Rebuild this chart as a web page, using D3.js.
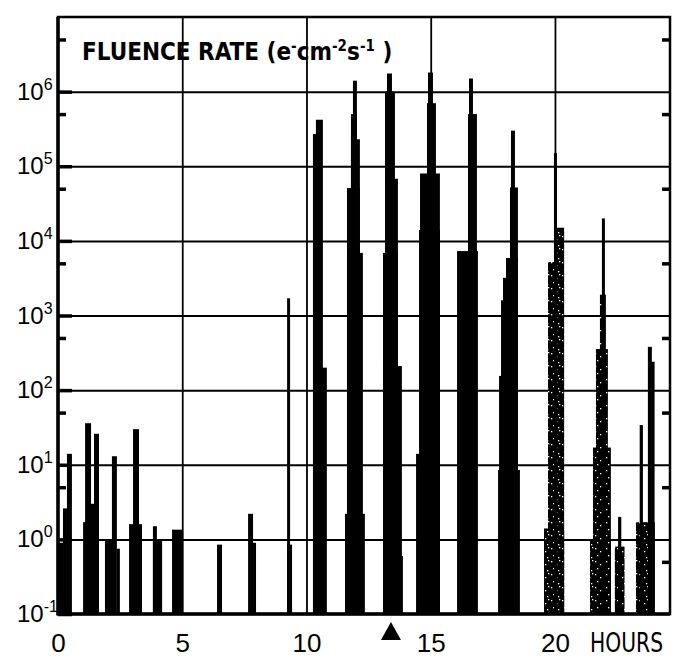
<!DOCTYPE html>
<html><head><meta charset="utf-8">
<script src="https://cdn.jsdelivr.net/npm/d3@7"></script>
<style>
html,body{margin:0;padding:0;background:#fff;}
svg{display:block;}
</style></head>
<body>
<svg id="chart" width="677" height="667"></svg>
<script>
// ---- data (hours, fluence rate e cm^-2 s^-1) ----
const barStart = [0.04,0.20,0.36, 1.01,1.09,1.29,1.45, 1.89,2.17,2.37, 2.86,3.02, 3.82,3.82, 4.59,
  6.40, 7.65,7.81, 9.22,9.22,
  10.26,10.38,10.62,
  11.55,11.63,11.63,11.79,11.79,11.87,
  13.08,13.08,13.08,13.16,13.16,13.24,
  14.41,14.53,14.57,14.85,14.89,
  16.06,16.50,16.54,
  17.71,17.75,17.83,17.91,18.03,18.19,18.23,
  19.56,19.72,20.04,19.96,
  21.41,21.53,21.65,21.81,21.89,
  22.41,22.54,
  23.26,23.41,23.74,23.81];
const barEnd = [0.24,0.40,0.56, 1.29,1.33,1.57,1.65, 2.21,2.37,2.49, 3.38,3.26, 4.19,3.98, 4.99,
  6.60, 7.85,7.97, 9.34,9.42,
  10.42,10.66,10.82,
  12.35,12.27,12.15,12.15,12.03,12.03,
  13.88,13.84,13.68,13.68,13.56,13.44,
  15.37,15.37,15.37,15.21,15.09,
  16.90,16.86,16.70,
  18.59,18.51,18.51,18.51,18.51,18.51,18.39,
  20.37,20.04,20.37,20.08,
  22.25,22.25,22.13,22.05,22.01,
  22.80,22.67,
  24.02,23.54,23.90,24.01];
const barValue = [0.9,2.6,14, 1.7,36,3,26, 1.0,13,0.75, 1.6,30, 0.95,1.5, 1.35,
  0.85, 2.2,0.9, 1700,0.85,
  2.7e5,4.2e5,200,
  2.2,6.9e3,5.1e4,2.3e5,5e5,1.4e6,
  0.6,210,6.9e3,6.8e4,1e6,1.75e6,
  14,1.4e4,8e4,7e5,1.8e6,
  7.3e3,5e5,1.5e6,
  8.5,155,1.6e3,3.2e3,5.9e3,5.2e4,3e5,
  1.4,5.2e3,1.5e4,1.5e5,
  1.0,17,355,1.9e3,2e4,
  0.8,2.0,
  1.7,34,380,240];
const decades = [0.1,1,10,100,1e3,1e4,1e5,1e6];
const decadeExp = ["-1","0","1","2","3","4","5","6"];
const minorTicks = [0.5,5,50,500,5e3,5e4,5e5,5e6];
const hourTicks = [0,5,10,15,20];
const markerHour = 13.4;

// ---- layout ----
const svg = d3.select("#chart");
const L = 58, R = 670, T = 17, B = 614;
const x = d3.scaleLinear().domain([0, 24.63]).range([L, R]);
const y = d3.scaleLog().domain([0.1, 1e7]).range([B, T]);

// stipple pattern (mostly black with scattered white specks)
const defs = svg.append("defs");
const pat = defs.append("pattern").attr("id","stip").attr("patternUnits","userSpaceOnUse")
  .attr("width",11).attr("height",13);
pat.append("rect").attr("width",11).attr("height",13).attr("fill","#000");
[[1,2],[6,5],[3,9],[8,11],[9,1]].forEach(p=>
  pat.append("rect").attr("x",p[0]).attr("y",p[1]).attr("width",1.3).attr("height",1.3).attr("fill","#fff"));

// gridlines
const gy = svg.append("g").attr("transform",`translate(${L},0)`)
  .call(d3.axisLeft(y).tickValues(decades.slice(1)).tickSize(-(R-L)).tickFormat(""));
gy.select(".domain").remove();
gy.selectAll("line").attr("stroke","#000").attr("stroke-width",2);
const gx = svg.append("g").attr("transform",`translate(0,${B})`)
  .call(d3.axisBottom(x).tickValues(hourTicks.slice(1)).tickSize(-(B-T)).tickFormat(""));
gx.select(".domain").remove();
gx.selectAll("line").attr("stroke","#000").attr("stroke-width",1.8);

// bars
const bars = barStart.map((s,i)=>({s, e:barEnd[i], v:barValue[i]}));
svg.append("g").selectAll("rect").data(bars).join("rect")
  .attr("x", d=>x(d.s))
  .attr("width", d=>x(d.e)-x(d.s))
  .attr("y", d=>y(d.v))
  .attr("height", d=>y(0.1)-y(d.v))
  .attr("fill", d=> (d.s >= 19.5 && x(d.e)-x(d.s) > 5) ? "url(#stip)" : "#000");

// frame
svg.append("rect").attr("x",L).attr("y",T).attr("width",R-L).attr("height",B-T)
  .attr("fill","none").attr("stroke","#000").attr("stroke-width",2.5);
svg.append("line").attr("x1",L).attr("x2",L).attr("y1",T).attr("y2",B+1.5).attr("stroke","#000").attr("stroke-width",3.5);
svg.append("line").attr("x1",L).attr("x2",R).attr("y1",B).attr("y2",B).attr("stroke","#000").attr("stroke-width",3.5);

// inward ticks
const tkMaj = svg.append("g").attr("transform",`translate(${L},0)`)
  .call(d3.axisRight(y).tickValues(decades).tickSize(14).tickFormat(""));
tkMaj.select(".domain").remove();
tkMaj.selectAll("line").attr("stroke","#000").attr("stroke-width",3.5);
const tkMin = svg.append("g").attr("transform",`translate(${L},0)`)
  .call(d3.axisRight(y).tickValues(minorTicks).tickSize(8).tickFormat(""));
tkMin.select(".domain").remove();
tkMin.selectAll("line").attr("stroke","#000").attr("stroke-width",3.5);
const tkMinR = svg.append("g").attr("transform",`translate(${R},0)`)
  .call(d3.axisLeft(y).tickValues(minorTicks).tickSize(8).tickFormat(""));
tkMinR.select(".domain").remove();
tkMinR.selectAll("line").attr("stroke","#000").attr("stroke-width",3.5);

// y labels
const fontMain = "'Liberation Sans', Arial, sans-serif";
const fontNarrow = "'Liberation Sans Narrow', 'DejaVu Sans Condensed', 'Liberation Sans', sans-serif";
const yl = svg.append("g").attr("font-family",fontMain).attr("fill","#000");
decades.forEach((d,i)=>{
  const t = yl.append("text").attr("x",17).attr("y",y(d)+8).attr("font-size",24);
  t.append("tspan").text("10");
  t.append("tspan").attr("font-size",16).attr("dy",-10).text(decadeExp[i]);
});

// x axis labels
const xa = svg.append("g").attr("transform",`translate(0,${B})`)
  .call(d3.axisBottom(x).tickValues(hourTicks).tickSize(0).tickPadding(0).tickFormat(d=>d));
xa.select(".domain").remove();
xa.selectAll("text").attr("font-family",fontMain).attr("font-size",26).attr("fill","#000")
  .attr("dy",null).attr("y",38);
svg.append("text").attr("x",590).attr("y",B+38).attr("font-family",fontNarrow)
  .attr("font-size",26).attr("fill","#000")
  .attr("textLength",73).attr("lengthAdjust","spacingAndGlyphs").text("HOURS");

// marker triangle
const mx = x(markerHour);
svg.append("path").attr("d",`M${mx-10},640 L${mx+10},640 L${mx},622 Z`).attr("fill","#000");

// title
const tt = svg.append("text").attr("x",82).attr("y",60).attr("font-family",fontNarrow)
  .attr("font-size",24).attr("font-weight","bold").attr("fill","#000");
tt.append("tspan").text("FLUENCE RATE (e");
tt.append("tspan").attr("font-size",15).attr("dy",-9).text("-");
tt.append("tspan").attr("dy",9).text("cm");
tt.append("tspan").attr("font-size",15).attr("dy",-9).text("-2");
tt.append("tspan").attr("dy",9).text("s");
tt.append("tspan").attr("font-size",15).attr("dy",-9).text("-1");
tt.append("tspan").attr("dy",9).text(" )");
</script>
</body></html>
